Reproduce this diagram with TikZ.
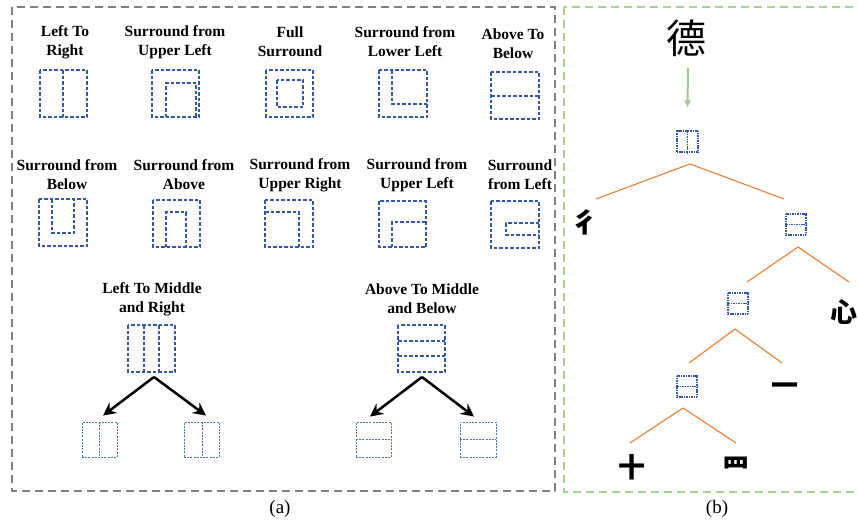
\documentclass[tikz,border=0pt]{standalone}
\usepackage{fontspec}
\setmainfont{Liberation Serif}
\newfontfamily\cjk{Noto Sans CJK SC}
\usetikzlibrary{arrows.meta}
\definecolor{bxblue}{RGB}{52,88,165}
\definecolor{framegray}{RGB}{128,128,128}
\definecolor{framegreen}{RGB}{169,209,142}
\definecolor{treeorange}{RGB}{237,125,49}
\definecolor{arrgreen}{RGB}{168,196,150}
\tikzset{
  bx/.style={draw=bxblue, line width=1.1pt, dash pattern=on 3.5pt off 2pt},
  sbx/.style={draw=bxblue!85, line width=0.9pt, dash pattern=on 2pt off 1.2pt},
  tbx/.style={draw=bxblue, line width=1.2pt, dash pattern=on 1.1pt off 0.6pt},
  lbl/.style={font=\bfseries\fontsize{15.5}{19}\selectfont, align=center, inner sep=0pt},
  captxt/.style={font=\fontsize{19}{22}\selectfont, inner sep=0pt},
  frm/.style={line width=2pt, dash pattern=on 8pt off 5pt},
  splitarrow/.style={line width=2.5pt, -{Stealth[length=13pt,width=13pt,inset=4.5pt]}},
  tree/.style={draw=treeorange, line width=1.1pt},
  han/.style={font=\cjk\bfseries\fontsize{27}{27}\selectfont, inner sep=0pt},
  treebox/.style={tbx, minimum width=20pt, minimum height=21pt, inner sep=0pt},
}
\begin{document}
\begin{tikzpicture}[x=1pt,y=-1pt]
\clip (0,0) rectangle (858,525);
\useasboundingbox (0,0) rectangle (858,525);
% frames
\draw[frm, draw=framegray] (12,7) rectangle (555,491);
\draw[frm, draw=framegreen] (564,7) rectangle (880,492);
\node[captxt] (capa) at (280,509) {(a)};
\node[captxt] (capb) at (717,509) {(b)};

% ---- Row 1 labels
\node[lbl] (l1) at (65,42) {Left To\\Right};
\node[lbl] (l2) at (175,42) {Surround from\\Upper Left};
\node[lbl] (l3) at (290,42) {Full\\Surround};
\node[lbl] (l4) at (405,42) {Surround from\\Lower Left};
\node[lbl] (l5) at (513,44) {Above To\\Below};
% Left to right
\draw[bx] (40,70) rectangle (87,117);
\draw[bx] (63,70) -- (63,117);
% Surround from upper left
\draw[bx] (152,70) rectangle (199,117);
\draw[bx] (166,117) -- (166,83) -- (196,83) -- (196,117);
% Full surround
\draw[bx] (266,70) rectangle (313,117);
\draw[bx] (277,80) rectangle (303,107);
% Surround from lower left
\draw[bx] (379,70) rectangle (427,117);
\draw[bx] (392,70) -- (392,104) -- (427,104);
% Above to below
\draw[bx] (491,72) rectangle (539,119);
\draw[bx] (491,96) -- (539,96);

% ---- Row 2 labels
\node[lbl] (m1) at (67,175) {Surround from\\Below};
\node[lbl] (m2) at (184,175) {Surround from\\Above};
\node[lbl] (m3) at (300,175) {Surround from\\Upper Right};
\node[lbl] (m4) at (417,175) {Surround from\\Upper Left};
\node[lbl] (m5) at (520,175) {Surround\\from Left};
% Surround from below
\draw[bx] (39,199) rectangle (87,246);
\draw[bx] (52,199) -- (52,233) -- (74,233) -- (74,199);
% Surround from above
\draw[bx] (153,200) rectangle (200,247);
\draw[bx] (166,247) -- (166,212) -- (186,212) -- (186,247);
% Surround from upper right
\draw[bx] (265,200) rectangle (313,247);
\draw[bx] (265,212) -- (299,212) -- (299,247);
% Surround from upper left (row 2)
\draw[bx] (379,201) rectangle (426,247);
\draw[bx] (392,247) -- (392,222) -- (426,222);
% Surround from left
\draw[bx] (491,201) rectangle (539,248);
\draw[bx] (539,223) -- (506,223) -- (506,235) -- (539,235);

% ---- Row 3
\node[lbl] (n1) at (152,299) {Left To Middle\\and Right};
\node[lbl] (n2) at (422,299) {Above To Middle\\and Below};
% left to middle and right
\draw[bx] (128,325) rectangle (175,372);
\draw[bx] (144,325) -- (144,372);
\draw[bx] (159,325) -- (159,372);
\coordinate (lmr) at (154,377);
\node[sbx, minimum width=35pt, minimum height=35pt, inner sep=0pt] (lmrA) at (99.5,439.5) {};
\draw[sbx] (99,422) -- (99,457);
\node[sbx, minimum width=35pt, minimum height=35pt, inner sep=0pt] (lmrB) at (201.5,439.5) {};
\draw[sbx] (202,422) -- (202,457);
\draw[splitarrow] (lmr) -- ([xshift=3.5pt,yshift=6pt]lmrA.north);
\draw[splitarrow] (lmr) -- ([xshift=4.5pt,yshift=6pt]lmrB.north);
% above to middle and below
\draw[bx] (398,325) rectangle (445,372);
\draw[bx] (398,341) -- (445,341);
\draw[bx] (398,356) -- (445,356);
\coordinate (amb) at (422,377);
\node[sbx, minimum width=35pt, minimum height=35pt, inner sep=0pt] (ambA) at (373.5,439.5) {};
\draw[sbx] (356,439) -- (391,439);
\node[sbx, minimum width=36pt, minimum height=35pt, inner sep=0pt] (ambB) at (478,439.5) {};
\draw[sbx] (460,439) -- (496,439);
\draw[splitarrow] (amb) -- ([xshift=-3.5pt,yshift=5pt]ambA.north);
\draw[splitarrow] (amb) -- ([xshift=-4pt,yshift=5pt]ambB.north);

% ---- (b) tree
\node[font=\cjk\fontsize{40}{40}\selectfont, inner sep=0pt] (de) at (686,38) {德};
\coordinate (deA) at (688,68);
\node[treebox, minimum width=21pt] (r0) at (687.5,141.5) {};
\draw[tbx] (r0.north) -- (r0.south);
\draw[draw=arrgreen, line width=2pt, -{Triangle[length=7pt,width=6pt]}] (deA) -- ([yshift=23pt]r0.north);

\node[han] (c1) at (585,222) {彳};
\node[treebox] (r1) at (796,224.5) {};
\draw[tbx] (r1.west) -- (r1.east);
\coordinate (a0) at (690,164);
\draw[tree] (a0) -- (596,199);
\draw[tree] (a0) -- (784,199);

\coordinate (a1) at (798,247);
\node[treebox] (r2) at (738,303.5) {};
\draw[tbx] (r2.west) -- (r2.east);
\node[han] (c2) at (844,312) {心};
\draw[tree] (a1) -- (747,282);
\draw[tree] (a1) -- (849,282);

\coordinate (a2) at (735,329);
\node[treebox] (r3) at (687,386.5) {};
\draw[tbx] (r3.west) -- (r3.east);
\node[han] (c3) at (785,389) {一};
\draw[tree] (a2) -- (689,363);
\draw[tree] (a2) -- (782,363);

\coordinate (a3) at (683,408);
\node[han] (c4) at (632,467) {十};
\node[han] (c5) at (736,468) {⺲};
\draw[tree] (a3) -- (630,443);
\draw[tree] (a3) -- (736,443);
\end{tikzpicture}
\end{document}
